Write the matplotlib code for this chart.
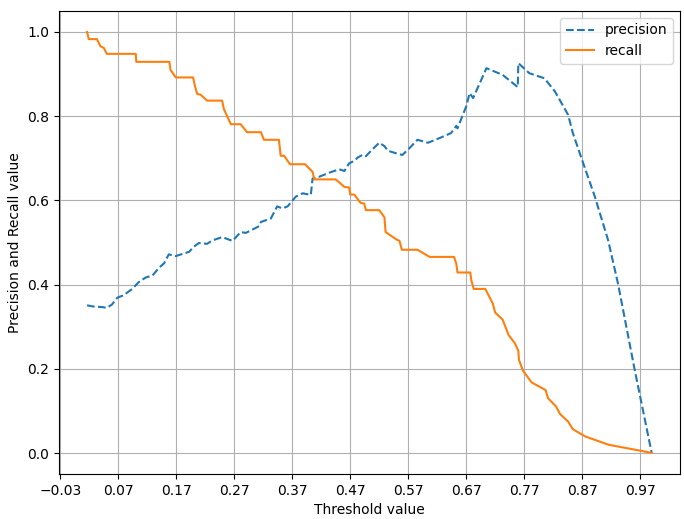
import numpy as np
import matplotlib
matplotlib.use("Agg")
from matplotlib import pyplot as plt

# precision curve (threshold, value)
prec_thr = [0.016, 0.028, 0.042, 0.050, 0.059, 0.068, 0.079, 0.094, 0.105, 0.117,
            0.129, 0.140, 0.149, 0.157, 0.169, 0.192, 0.200, 0.209, 0.223, 0.232,
            0.249, 0.267, 0.281, 0.290, 0.313, 0.316, 0.333, 0.336, 0.344, 0.353,
            0.362, 0.367, 0.376, 0.388, 0.402, 0.405, 0.416, 0.434, 0.451, 0.460,
            0.468, 0.477, 0.483, 0.491, 0.497, 0.506, 0.520, 0.529, 0.535, 0.549,
            0.560, 0.572, 0.586, 0.604, 0.624, 0.644, 0.653, 0.655, 0.670, 0.676,
            0.682, 0.705, 0.733, 0.759, 0.760, 0.779, 0.805, 0.823, 0.846, 0.854,
            0.872, 0.892, 0.915, 0.932, 0.961, 0.990]
precision = [0.351, 0.348, 0.347, 0.345, 0.353, 0.369, 0.375, 0.390, 0.406, 0.417,
             0.422, 0.440, 0.451, 0.472, 0.468, 0.478, 0.490, 0.499, 0.497, 0.505,
             0.513, 0.504, 0.525, 0.523, 0.539, 0.549, 0.557, 0.565, 0.586, 0.581,
             0.586, 0.594, 0.609, 0.617, 0.613, 0.652, 0.656, 0.666, 0.674, 0.670,
             0.688, 0.694, 0.702, 0.708, 0.705, 0.718, 0.737, 0.729, 0.718, 0.712,
             0.708, 0.724, 0.744, 0.737, 0.748, 0.760, 0.777, 0.771, 0.823, 0.855,
             0.843, 0.914, 0.898, 0.869, 0.926, 0.902, 0.890, 0.859, 0.803, 0.760,
             0.688, 0.609, 0.505, 0.402, 0.196, 0.001]

# recall curve (threshold, value)
rec_thr = [0.016, 0.019, 0.033, 0.039, 0.045, 0.050, 0.100, 0.101, 0.158, 0.160,
           0.169, 0.199, 0.202, 0.206, 0.212, 0.223, 0.249, 0.252, 0.264, 0.281,
           0.292, 0.316, 0.321, 0.347, 0.350, 0.356, 0.366, 0.392, 0.405, 0.408,
           0.445, 0.460, 0.468, 0.470, 0.477, 0.488, 0.494, 0.497, 0.520, 0.529,
           0.531, 0.549, 0.555, 0.559, 0.586, 0.607, 0.649, 0.653, 0.655, 0.677,
           0.679, 0.683, 0.703, 0.716, 0.720, 0.733, 0.743, 0.754, 0.760, 0.761,
           0.768, 0.783, 0.807, 0.811, 0.825, 0.832, 0.846, 0.854, 0.875, 0.916,
           0.990]
recall = [1.000, 0.983, 0.983, 0.966, 0.962, 0.948, 0.948, 0.929, 0.929, 0.910,
          0.892, 0.892, 0.872, 0.853, 0.851, 0.837, 0.837, 0.817, 0.781, 0.781,
          0.762, 0.762, 0.744, 0.744, 0.706, 0.706, 0.686, 0.686, 0.668, 0.650,
          0.650, 0.632, 0.631, 0.614, 0.614, 0.594, 0.593, 0.577, 0.577, 0.560,
          0.525, 0.508, 0.504, 0.483, 0.483, 0.466, 0.466, 0.450, 0.429, 0.429,
          0.410, 0.390, 0.390, 0.355, 0.334, 0.317, 0.281, 0.261, 0.243, 0.222,
          0.196, 0.168, 0.150, 0.131, 0.111, 0.093, 0.075, 0.057, 0.040, 0.020,
          0.001]

plt.figure(figsize=(6.84, 5.19), dpi=100)
plt.plot(prec_thr, precision, linestyle="--", label="precision")
plt.plot(rec_thr, recall, label="recall")

start, end = plt.xlim()
plt.xticks(np.round(np.arange(start, end, 0.1), 2))

plt.xlabel("Threshold value")
plt.ylabel("Precision and Recall value")
plt.legend()
plt.grid()
plt.subplots_adjust(left=0.086, right=0.994, top=0.979, bottom=0.087)
plt.savefig("out.png", dpi=100)
